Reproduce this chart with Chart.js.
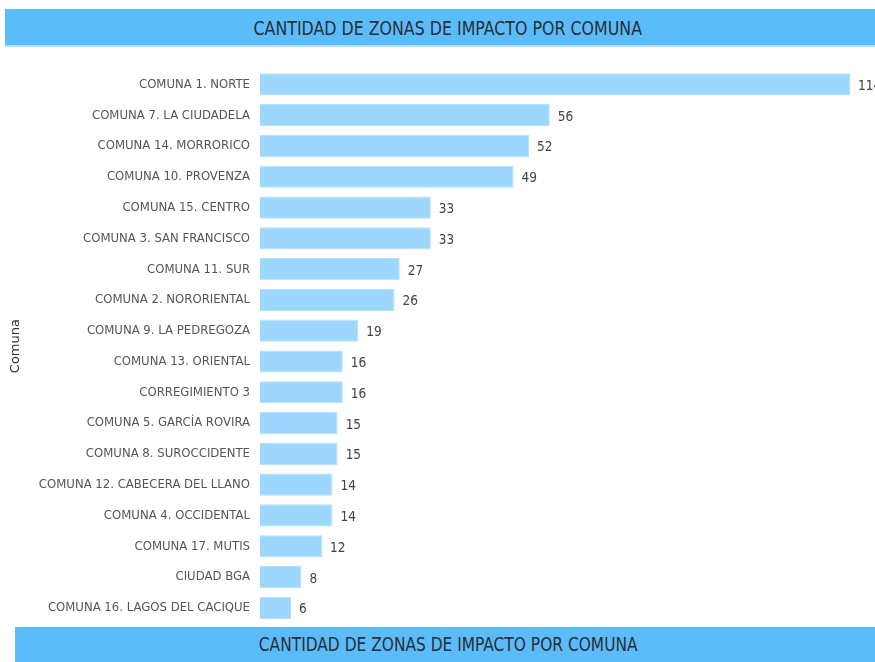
<!DOCTYPE html>
<html>
<head>
<meta charset="utf-8">
<script src="https://cdn.jsdelivr.net/npm/chart.js@4.4.0/dist/chart.umd.min.js"></script>
<style>
  html, body { margin: 0; padding: 0; background: #fff; }
  body { width: 875px; height: 662px; position: relative; overflow: hidden; }
  .band {
    position: absolute; background: #5bbcfc; color: #2a2f33;
    font-family: "Liberation Sans Narrow", "DejaVu Sans Condensed", sans-serif;
    text-align: center; box-sizing: border-box;
  }
  .band span { display: inline-block; transform: scaleX(0.88); }
  #band-top { left: 5px; top: 9px; width: 870px; height: 38px; line-height: 38px; font-size: 20px; padding-left: 16px; border-bottom: 2px solid #b5e1ff; }
  #band-bottom { left: 15px; top: 627px; width: 860px; height: 35px; line-height: 36px; font-size: 19.5px; padding-left: 6px; }
  #wrap { position: absolute; left: 0; top: 50px; width: 875px; height: 591px; }
</style>
</head>
<body>
<div class="band" id="band-top"><span>CANTIDAD DE ZONAS DE IMPACTO POR COMUNA</span></div>
<div id="wrap"><canvas id="chart"></canvas></div>
<div class="band" id="band-bottom"><span>CANTIDAD DE ZONAS DE IMPACTO POR COMUNA</span></div>
<script>
// data
const comunas = [
    'COMUNA 1. NORTE', 'COMUNA 7. LA CIUDADELA', 'COMUNA 14. MORRORICO', 'COMUNA 10. PROVENZA',
    'COMUNA 15. CENTRO', 'COMUNA 3. SAN FRANCISCO', 'COMUNA 11. SUR', 'COMUNA 2. NORORIENTAL',
    'COMUNA 9. LA PEDREGOZA', 'COMUNA 13. ORIENTAL', 'CORREGIMIENTO 3', 'COMUNA 5. GARCÍA ROVIRA',
    'COMUNA 8. SUROCCIDENTE', 'COMUNA 12. CABECERA DEL LLANO', 'COMUNA 4. OCCIDENTAL',
    'COMUNA 17. MUTIS', 'CIUDAD BGA', 'COMUNA 16. LAGOS DEL CACIQUE'
];
const zonas = [114, 56, 52, 49, 33, 33, 27, 26, 19, 16, 16, 15, 15, 14, 14, 12, 8, 6];

const FONT_NARROW = '"Liberation Sans Narrow", "DejaVu Sans Condensed", sans-serif';

// value labels at the end of each bar
const valueLabels = {
    id: 'valueLabels',
    afterDatasetsDraw(chart) {
        const ctx = chart.ctx;
        const meta = chart.getDatasetMeta(0);
        ctx.save();
        ctx.font = '13.5px ' + FONT_NARROW;
        ctx.fillStyle = '#444';
        ctx.textAlign = 'left';
        ctx.textBaseline = 'middle';
        meta.data.forEach((bar, i) => {
            ctx.fillText(String(zonas[i]), bar.x + 8, bar.y + 2);
        });
        ctx.restore();
    }
};

new Chart(document.getElementById('chart'), {
    type: 'bar',
    data: {
        labels: comunas,
        datasets: [{
            data: zonas,
            backgroundColor: '#9dd7fd',
            borderColor: '#b3e0fe',
            borderWidth: 1,
            barPercentage: 0.72,
            categoryPercentage: 1
        }]
    },
    options: {
        indexAxis: 'y',
        responsive: true,
        maintainAspectRatio: false,
        animation: false,
        layout: { padding: { left: 0, right: 25, top: 19, bottom: 4 } },
        plugins: { legend: { display: false }, tooltip: { enabled: false } },
        scales: {
            x: { display: false, min: 0, max: 114 },
            y: {
                grid: { display: false, drawTicks: false },
                border: { display: false },
                ticks: { color: '#555', padding: 10, font: { size: 13, family: FONT_NARROW } },
                title: { display: true, text: 'Comuna', color: '#333', padding: { top: 8, bottom: 0 },
                         font: { size: 13, family: '"DejaVu Sans", sans-serif' } },
                afterFit(scale) { scale.width = 260; }
            }
        }
    },
    plugins: [valueLabels]
});
</script>
</body>
</html>
